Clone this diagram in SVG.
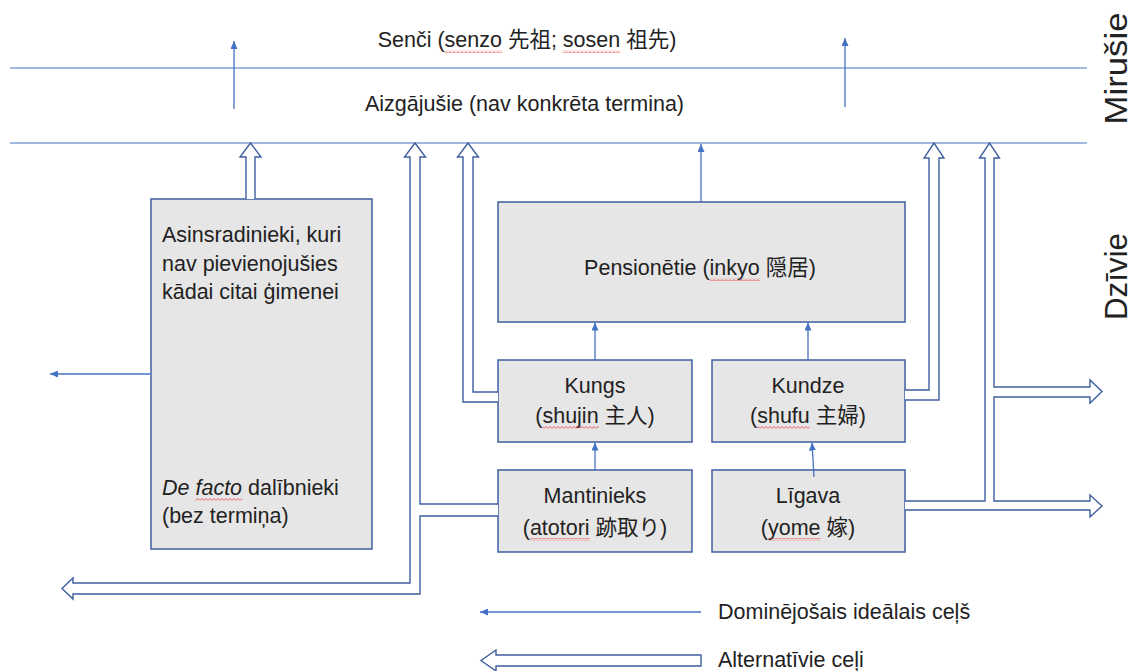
<svg xmlns="http://www.w3.org/2000/svg" width="1134" height="671" viewBox="0 0 1134 671">
<style>
.t{font-family:"Liberation Sans","Noto Sans CJK JP",sans-serif;font-size:21.5px;fill:#222}
.c{text-anchor:middle}
.box{fill:#e7e6e6;stroke:#3f5fa0;stroke-width:1.5}
.thin{stroke:#4472c4;stroke-width:1.3;fill:none;marker-end:url(#ah)}
.hollow{fill:#fff;stroke:#3f5fa0;stroke-width:1.4;stroke-linejoin:miter}
.band{stroke:#4472c4;stroke-width:1.2;fill:none}
.sq{fill:url(#wave)}
.side{font-size:32px}
</style>
<defs>
<marker id="ah" markerUnits="userSpaceOnUse" markerWidth="8" markerHeight="7" refX="8" refY="3.5" orient="auto">
<path d="M0,0 L8,3.5 L0,7 z" fill="#4472c4"/>
</marker>
<pattern id="wave" width="4" height="3" patternUnits="userSpaceOnUse">
<path d="M0,2.5 L2,0.5 L4,2.5" stroke="#e0302a" stroke-width="0.8" fill="none"/>
</pattern>
</defs>
<rect width="1134" height="671" fill="#fff"/>

<g id="bands">
<path class="band" d="M10,68 L1087,68 M10,143 L1087,143"/>
</g>

<g id="senci">
<text class="t c" x="527" y="47">Senči (senzo 先祖; sosen 祖先)</text>
<rect class="sq" x="444.6" y="50" width="57.4" height="3"/>
<rect class="sq" x="562.8" y="50" width="57.4" height="3"/>
</g>
<g id="aizgajusie">
<text class="t c" x="524.5" y="111">Aizgājušie (nav konkrēta termina)</text>
</g>
<g id="label-mirusie">
<text class="t c side" transform="translate(1126.5,68.5) rotate(-90)" textLength="112" lengthAdjust="spacingAndGlyphs">Mirušie</text>
</g>
<g id="label-dzivie">
<text class="t c side" transform="translate(1126.5,276.5) rotate(-90)" textLength="87" lengthAdjust="spacingAndGlyphs">Dzīvie</text>
</g>

<g id="asinsradinieki">
<rect class="box" x="151" y="199" width="221" height="350"/>
<text class="t" x="162" y="242">Asinsradinieki, kuri</text>
<text class="t" x="162" y="271">nav pievienojušies</text>
<text class="t" x="162" y="299">kādai citai ģimenei</text>
<text class="t" x="162" y="495"><tspan font-style="italic">De facto</tspan> dalībnieki</text>
<text class="t" x="162" y="523">(bez termiņa)</text>
<rect class="sq" x="195.5" y="498" width="46.6" height="3"/>
</g>
<g id="pensionetie">
<rect class="box" x="498" y="202" width="407" height="120"/>
<text class="t c" x="700" y="275">Pensionētie (inkyo 隠居)</text>
<rect class="sq" x="709.6" y="278" width="50.2" height="3"/>
</g>
<g id="kungs">
<rect class="box" x="498" y="360" width="194" height="82"/>
<text class="t c" x="595" y="393">Kungs</text>
<text class="t c" x="595" y="423">(shujin 主人)</text>
<rect class="sq" x="542.5" y="426" width="56.2" height="3"/>
</g>
<g id="kundze">
<rect class="box" x="712" y="360" width="193" height="82"/>
<text class="t c" x="808" y="393">Kundze</text>
<text class="t c" x="808" y="423">(shufu 主婦)</text>
<rect class="sq" x="757.2" y="426" width="52.6" height="3"/>
</g>
<g id="mantinieks">
<rect class="box" x="498" y="470" width="194" height="82"/>
<text class="t c" x="595" y="503">Mantinieks</text>
<text class="t c" x="595" y="535">(atotori 跡取り)</text>
<rect class="sq" x="529.9" y="538" width="59.8" height="3"/>
</g>
<g id="ligava">
<rect class="box" x="712" y="470" width="193" height="82"/>
<text class="t c" x="808" y="503">Līgava</text>
<text class="t c" x="808" y="535">(yome 嫁)</text>
<rect class="sq" x="768" y="538" width="52.6" height="3"/>
</g>

<g id="connectors">
<path class="thin" d="M234,109 L234,41"/>
<path class="thin" d="M845,107 L845,38"/>
<path class="thin" d="M701,202 L701,144"/>
<path class="thin" d="M595,360 L595,322.5"/>
<path class="thin" d="M808,360 L808,322.5"/>
<path class="thin" d="M595,470 L595,442.5"/>
<path class="thin" d="M814,477 L812,442.5"/>
<path class="thin" d="M150,374 L50,374"/>
<path class="hollow" d="M246,199 L246,157 L240,157 L250.5,143 L261,157 L255,157 L255,199"/>
<path class="hollow" d="M498,504 L420,504 L420,157 L425.5,157 L415,143 L404.5,157 L410,157 L410,583 L73,583 L73,578 L62,588.5 L73,599 L73,594 L420,594 L420,516 L498,516"/>
<path class="hollow" d="M498,392 L473,392 L473,157 L478.5,157 L468,143 L457.5,157 L463,157 L463,402 L498,402"/>
<path class="hollow" d="M905,390 L929,390 L929,158 L924,158 L934,143 L944,158 L939,158 L939,400 L905,400"/>
<path class="hollow" d="M905,501 L985,501 L985,158 L979.5,158 L989.5,143 L999.5,158 L994,158 L994,387 L1090,387 L1090,380 L1102,391.5 L1090,403 L1090,397 L994,397 L994,501 L1090,501 L1090,495 L1102,506 L1090,517 L1090,510 L905,510"/>
</g>

<g id="legend">
<path class="thin" d="M701,612 L480,612"/>
<text class="t" x="718" y="619">Dominējošais ideālais ceļš</text>
<path class="hollow" d="M701,655 L496,655 L496,650 L481,660.5 L496,671 L496,666 L701,666 Z"/>
<text class="t" x="718" y="667">Alternatīvie ceļi</text>
</g>
</svg>
